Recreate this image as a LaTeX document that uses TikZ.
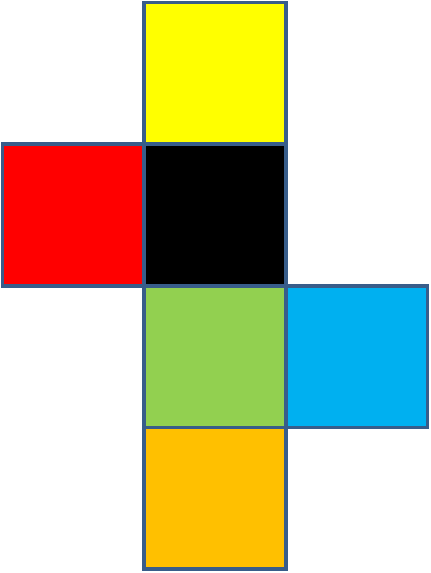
\documentclass[tikz,border=0pt]{standalone}
\usetikzlibrary{positioning}
\definecolor{edgeblue}{RGB}{56,93,138}
\definecolor{netyellow}{RGB}{255,255,0}
\definecolor{netred}{RGB}{255,0,0}
\definecolor{netgreen}{RGB}{146,208,80}
\definecolor{netblue}{RGB}{0,176,240}
\definecolor{netorange}{RGB}{255,192,0}

\begin{document}
\begin{tikzpicture}[x=1pt,y=-1pt,
			every node/.style={draw=edgeblue,line width=3.7pt,outer sep=0pt,
			inner sep=0pt,minimum size=141.7pt},
			node distance=0pt
			]
		\useasboundingbox (0,0) rectangle (431,573);
		\node[fill=black] (midden) at (214.9,214.9) {};
		\node[fill=netyellow,above=of midden] (boven) {};
		\node[fill=netred,left=of midden] (links) {};
		\node[fill=netgreen,below=of midden] (onder) {};
		\node[fill=netblue,right=of onder] (rechts) {};
		\node[fill=netorange,below=of onder] (achter) {};
	\end{tikzpicture}
\end{document}
